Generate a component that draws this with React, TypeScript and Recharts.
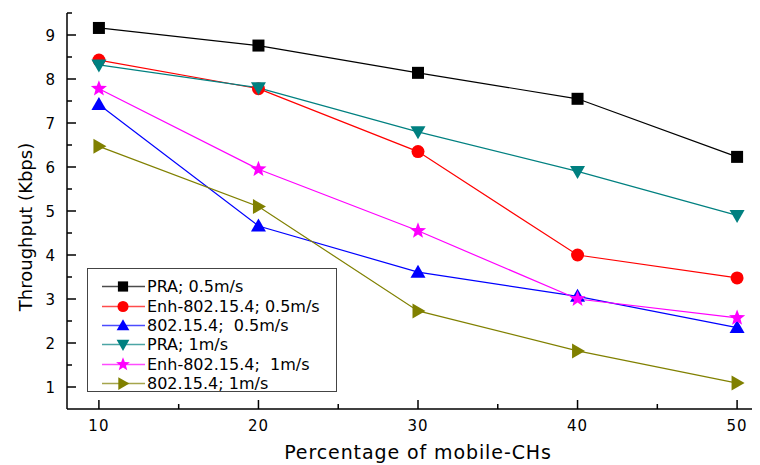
import { LineChart, Line, XAxis, YAxis, Legend } from 'recharts';

const percentages = [10, 20, 30, 40, 50];
const xTicks = [10, 15, 20, 25, 30, 35, 40, 45, 50];
const yTicks = [1, 1.5, 2, 2.5, 3, 3.5, 4, 4.5, 5, 5.5, 6, 6.5, 7, 7.5, 8, 8.5, 9, 9.5];

const praSlow = [9.16, 8.76, 8.14, 7.55, 6.23];
const enhSlow = [8.43, 7.78, 6.35, 4.0, 3.48];
const stdSlow = [7.42, 4.66, 3.61, 3.06, 2.35];
const praFast = [8.32, 7.8, 6.8, 5.9, 4.9];
const enhFast = [7.78, 5.95, 4.55, 3.0, 2.57];
const stdFast = [6.47, 5.1, 2.73, 1.82, 1.09];

const FONT = '"DejaVu Sans", sans-serif';

type Shape = 'square' | 'circle' | 'up' | 'down' | 'star' | 'right';

const SERIES: { key: string; name: string; color: string; shape: Shape; values: number[] }[] = [
  { key: 'praSlow', name: 'PRA; 0.5m/s', color: '#000000', shape: 'square', values: praSlow },
  { key: 'enhSlow', name: 'Enh-802.15.4; 0.5m/s', color: '#ff0000', shape: 'circle', values: enhSlow },
  { key: 'stdSlow', name: '802.15.4;  0.5m/s', color: '#0000ff', shape: 'up', values: stdSlow },
  { key: 'praFast', name: 'PRA; 1m/s', color: '#008080', shape: 'down', values: praFast },
  { key: 'enhFast', name: 'Enh-802.15.4;  1m/s', color: '#ff00ff', shape: 'star', values: enhFast },
  { key: 'stdFast', name: '802.15.4; 1m/s', color: '#808000', shape: 'right', values: stdFast },
];

const data = percentages.map((p, i) => {
  const row: Record<string, number> = { pct: p };
  SERIES.forEach(s => { row[s.key] = s.values[i]; });
  return row;
});

const Marker = ({ cx, cy, shape, color, k = 1 }: { cx: number; cy: number; shape: Shape; color: string; k?: number }) => {
  switch (shape) {
    case 'square':
      return <rect x={cx - 6 * k} y={cy - 6 * k} width={12 * k} height={12 * k} fill={color} />;
    case 'circle':
      return <circle cx={cx} cy={cy} r={6.5 * k} fill={color} />;
    case 'up':
      return <polygon points={`${cx},${cy - 7.5 * k} ${cx + 7.5 * k},${cy + 5.5 * k} ${cx - 7.5 * k},${cy + 5.5 * k}`} fill={color} />;
    case 'down':
      return <polygon points={`${cx},${cy + 7.5 * k} ${cx + 7.5 * k},${cy - 5.5 * k} ${cx - 7.5 * k},${cy - 5.5 * k}`} fill={color} />;
    case 'right':
      return <polygon points={`${cx + 7.5 * k},${cy} ${cx - 5.5 * k},${cy - 7.5 * k} ${cx - 5.5 * k},${cy + 7.5 * k}`} fill={color} />;
    case 'star': {
      const pts: string[] = [];
      for (let i = 0; i < 10; i++) {
        const r = (i % 2 === 0 ? 8.5 : 3.6) * k;
        const a = -Math.PI / 2 + (i * Math.PI) / 5;
        pts.push(`${cx + r * Math.cos(a)},${cy + r * Math.sin(a)}`);
      }
      return <polygon points={pts.join(' ')} fill={color} />;
    }
  }
  return null;
};

const BottomTick = (props: any) => {
  const { x, y, payload } = props;
  const major = payload.value % 10 === 0;
  return (
    <g>
      <line x1={x} y1={y} x2={x} y2={y - (major ? 9 : 5)} stroke="#000" strokeWidth={1.5} />
      {major && (
        <text x={x} y={y + 22} textAnchor="middle" fontSize={15} letterSpacing={1} fontFamily={FONT} fill="#000">
          {payload.value}
        </text>
      )}
    </g>
  );
};

const TopTick = (props: any) => {
  const { x, y, payload } = props;
  const major = payload.value % 10 === 0;
  return <line x1={x} y1={y} x2={x} y2={y + (major ? 9 : 5)} stroke="#000" strokeWidth={1.5} />;
};

const LeftTick = (props: any) => {
  const { x, y, payload } = props;
  const major = Number.isInteger(payload.value);
  return (
    <g>
      <line x1={x} y1={y} x2={x + (major ? 9 : 5)} y2={y} stroke="#000" strokeWidth={1.5} />
      {major && (
        <text x={x - 12} y={y + 5.5} textAnchor="end" fontSize={15} fontFamily={FONT} fill="#000">
          {payload.value}
        </text>
      )}
    </g>
  );
};

const LegendBox = () => (
  <div
    style={{
      width: 250,
      height: 124,
      border: '1px solid #444',
      background: '#fff',
      boxSizing: 'border-box',
      paddingTop: 8,
      fontFamily: FONT,
      fontSize: 16,
    }}
  >
    {SERIES.map(s => (
      <div key={s.key} style={{ display: 'flex', alignItems: 'center', height: 19.4 }}>
        <svg width={59} height={19} style={{ flex: 'none' }}>
          <line x1={14} y1={9.5} x2={57} y2={9.5} stroke={s.color} strokeWidth={1.5} opacity={0.7} />
          <Marker cx={35} cy={9.5} shape={s.shape} color={s.color} k={0.85} />
        </svg>
        <span style={{ whiteSpace: 'pre', lineHeight: '19px' }}>{s.name}</span>
      </div>
    ))}
  </div>
);

export default function App() {
  return (
    <div style={{ width: 752, height: 457, overflow: 'hidden' }}>
      <LineChart width={780} height={457} data={data} margin={{ top: 5, right: 19, bottom: 0, left: 0 }}>
        <XAxis
          dataKey="pct"
          type="number"
          domain={[8, 52]}
          ticks={xTicks}
          height={56}
          stroke="#000"
          strokeWidth={1.5}
          tickSize={0}
          tickMargin={0}
          tick={<BottomTick />}
          interval={0}
          label={(p: any) => {
            const vb = p.viewBox;
            return (
              <text x={vb.x + vb.width / 2} y={vb.y + 50} textAnchor="middle" fontSize={19} letterSpacing={0.9} fontFamily={FONT} fill="#000">
                Percentage of mobile-CHs
              </text>
            );
          }}
        />
        <XAxis
          xAxisId="top"
          dataKey="pct"
          type="number"
          orientation="top"
          domain={[8, 52]}
          ticks={xTicks}
          height={0}
          stroke="#000"
          strokeWidth={1.5}
          tickSize={0}
          tickMargin={0}
          tick={<TopTick />}
          interval={0}
        />
        <YAxis
          type="number"
          domain={[0.5, 9.5]}
          ticks={yTicks}
          width={59}
          stroke="#000"
          strokeWidth={1.5}
          tickSize={0}
          tickMargin={0}
          tick={<LeftTick />}
          interval={0}
          label={(p: any) => {
            const vb = p.viewBox;
            const cx = vb.x + 17;
            const cy = vb.y + vb.height / 2 + 16;
            return (
              <text x={cx} y={cy} transform={`rotate(-90 ${cx} ${cy})`} textAnchor="middle" dominantBaseline="central" fontSize={18} fontFamily={FONT} fill="#000">
                Throughput (Kbps)
              </text>
            );
          }}
        />
        <Legend
          layout="horizontal"
          verticalAlign="middle"
          align="center"
          content={<LegendBox />}
          wrapperStyle={{ position: 'absolute', left: 79, top: 260, width: 250 }}
        />
        {SERIES.map(s => (
          <Line
            key={s.key}
            dataKey={s.key}
            name={s.name}
            stroke={s.color}
            strokeWidth={1.2}
            isAnimationActive={false}
            dot={(p: any) => <Marker key={`${s.key}-${p.index}`} cx={p.cx} cy={p.cy} shape={s.shape} color={s.color} />}
            activeDot={false}
          />
        ))}
      </LineChart>
    </div>
  );
}
